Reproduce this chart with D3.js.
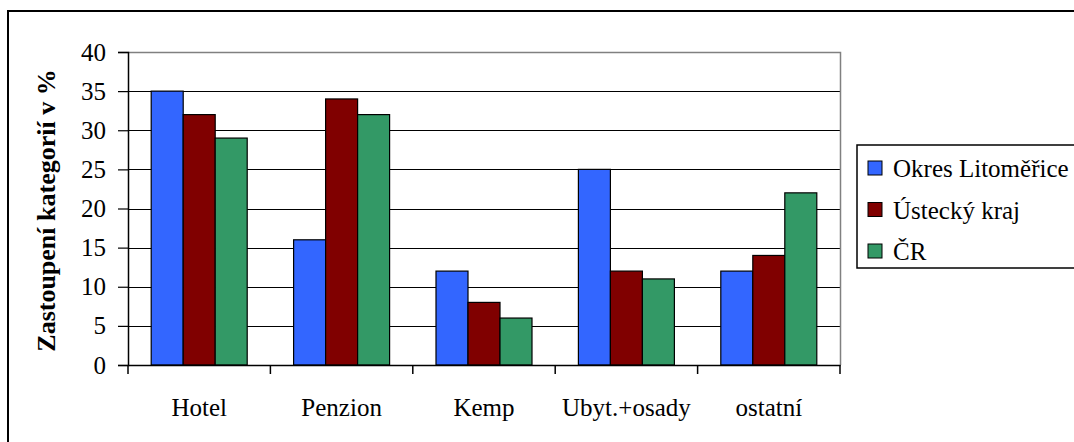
<!DOCTYPE html>
<html>
<head>
<meta charset="utf-8">
<script src="https://cdn.jsdelivr.net/npm/d3@7"></script>
<style>
  body { margin: 0; background: #fff; }
  svg text { font-family: "Liberation Serif", "Times New Roman", serif; fill: #000; }
</style>
</head>
<body>
<div id="chart"></div>
<script>
var width = 1074;
var height = 442;

var categories = ['Hotel', 'Penzion', 'Kemp', 'Ubyt.+osady', 'ostatní'];
var seriesNames = ['Okres Litoměřice', 'Ústecký kraj', 'ČR'];
var litomerice = [35, 16, 12, 25, 12];
var ustecky = [32, 34, 8, 12, 14];
var cr = [29, 32, 6, 11, 22];
var colors = ['#3366ff', '#800000', '#339966'];
var yTicks = [0, 5, 10, 15, 20, 25, 30, 35, 40];

var seriesValues = [litomerice, ustecky, cr];
var serifFont = '"Liberation Serif", "Times New Roman", serif';

var plot = { left: 128, right: 840, top: 52, bottom: 365 };

var svg = d3.select('#chart')
  .append('svg')
  .attr('width', width)
  .attr('height', height)
  .attr('font-family', serifFont);

// outer chart frame, cut off on the right and bottom like the reference
svg.append('rect')
  .attr('x', 8)
  .attr('y', 11)
  .attr('width', 1100)
  .attr('height', 500)
  .attr('fill', 'none')
  .attr('stroke', '#000')
  .attr('stroke-width', 2);

var x0 = d3.scaleBand()
  .domain(categories)
  .range([plot.left, plot.right])
  .padding(0);

var x1 = d3.scaleBand()
  .domain(d3.range(seriesNames.length))
  .range([0, x0.bandwidth()])
  .paddingInner(0)
  .paddingOuter(0.725);

var y = d3.scaleLinear()
  .domain([0, 40])
  .range([plot.bottom, plot.top]);

// gridlines
svg.append('g')
  .selectAll('line')
  .data(yTicks.filter(function(d) { return d > 0 && d < 40; }))
  .enter()
  .append('line')
  .attr('x1', plot.left)
  .attr('x2', plot.right)
  .attr('y1', function(d) { return Math.round(y(d)) + 0.5; })
  .attr('y2', function(d) { return Math.round(y(d)) + 0.5; })
  .attr('stroke', '#000')
  .attr('stroke-width', 1);

// plot area top/right border (gray)
svg.append('path')
  .attr('d', 'M' + plot.left + ',' + (y(40) + 0.5) + 'H' + (plot.right + 0.5) + 'V' + plot.bottom)
  .attr('fill', 'none')
  .attr('stroke', '#808080')
  .attr('stroke-width', 1.5);

// bars
var groups = svg.append('g')
  .selectAll('g')
  .data(categories)
  .enter()
  .append('g')
  .attr('transform', function(d) { return 'translate(' + x0(d) + ',0)'; });

groups.selectAll('rect')
  .data(function(d, ci) {
    return seriesValues.map(function(vals, si) { return { s: si, v: vals[ci] }; });
  })
  .enter()
  .append('rect')
  .attr('x', function(d) { return x1(d.s); })
  .attr('y', function(d) { return y(d.v); })
  .attr('width', x1.bandwidth())
  .attr('height', function(d) { return y(0) - y(d.v); })
  .attr('fill', function(d) { return colors[d.s]; })
  .attr('stroke', '#000')
  .attr('stroke-width', 1.2);

// y axis
var yAxis = d3.axisLeft(y)
  .tickValues(yTicks)
  .tickSize(10)
  .tickPadding(12);

var yg = svg.append('g')
  .attr('transform', 'translate(' + plot.left + ',0)')
  .call(yAxis)
  .attr('font-family', serifFont)
  .attr('font-size', 25);
yg.select('.domain').attr('stroke', '#000').attr('stroke-width', 1.5);
yg.selectAll('.tick line').attr('stroke', '#000').attr('stroke-width', 1.2);
yg.selectAll('.tick text')
  .style('font-family', serifFont)
  .style('font-size', '25px')
  .attr('fill', '#000');

// x axis
var xAxis = d3.axisBottom(x0)
  .tickSize(0)
  .tickPadding(33);

var xg = svg.append('g')
  .attr('transform', 'translate(0,' + plot.bottom + ')')
  .call(xAxis)
  .attr('font-family', serifFont)
  .attr('font-size', 25);
xg.select('.domain').attr('stroke', '#000').attr('stroke-width', 1.5);
xg.selectAll('.tick text')
  .style('font-family', serifFont)
  .style('font-size', '25px')
  .attr('fill', '#000');

// category separator ticks
xg.append('g')
  .selectAll('line')
  .data(d3.range(categories.length + 1))
  .enter()
  .append('line')
  .attr('x1', function(i) { return plot.left + i * x0.step(); })
  .attr('x2', function(i) { return plot.left + i * x0.step(); })
  .attr('y1', 0)
  .attr('y2', 9)
  .attr('stroke', '#000')
  .attr('stroke-width', 1.5);

// y axis title
svg.append('text')
  .attr('transform', 'translate(55,' + ((plot.top + plot.bottom) / 2 + 2) + ') rotate(-90)')
  .attr('text-anchor', 'middle')
  .style('font-family', serifFont)
  .style('font-weight', 'bold')
  .style('font-size', '26px')
  .text('Zastoupení kategorií v %');

// legend
var legend = svg.append('g')
  .attr('transform', 'translate(857,145)');

legend.append('rect')
  .attr('x', 0)
  .attr('y', 0)
  .attr('width', 260)
  .attr('height', 123)
  .attr('fill', '#fff')
  .attr('stroke', '#000')
  .attr('stroke-width', 1.5);

var items = legend.selectAll('g.item')
  .data(seriesNames)
  .enter()
  .append('g')
  .attr('class', 'item')
  .attr('transform', function(d, i) { return 'translate(0,' + (23 + i * 41.5) + ')'; });

items.append('rect')
  .attr('x', 11)
  .attr('y', -7)
  .attr('width', 14)
  .attr('height', 14)
  .attr('fill', function(d, i) { return colors[i]; })
  .attr('stroke', '#000')
  .attr('stroke-width', 1);

items.append('text')
  .attr('x', 36)
  .attr('y', 9)
  .style('font-family', serifFont)
  .style('font-size', '25px')
  .text(function(d) { return d; });
</script>
</body>
</html>
